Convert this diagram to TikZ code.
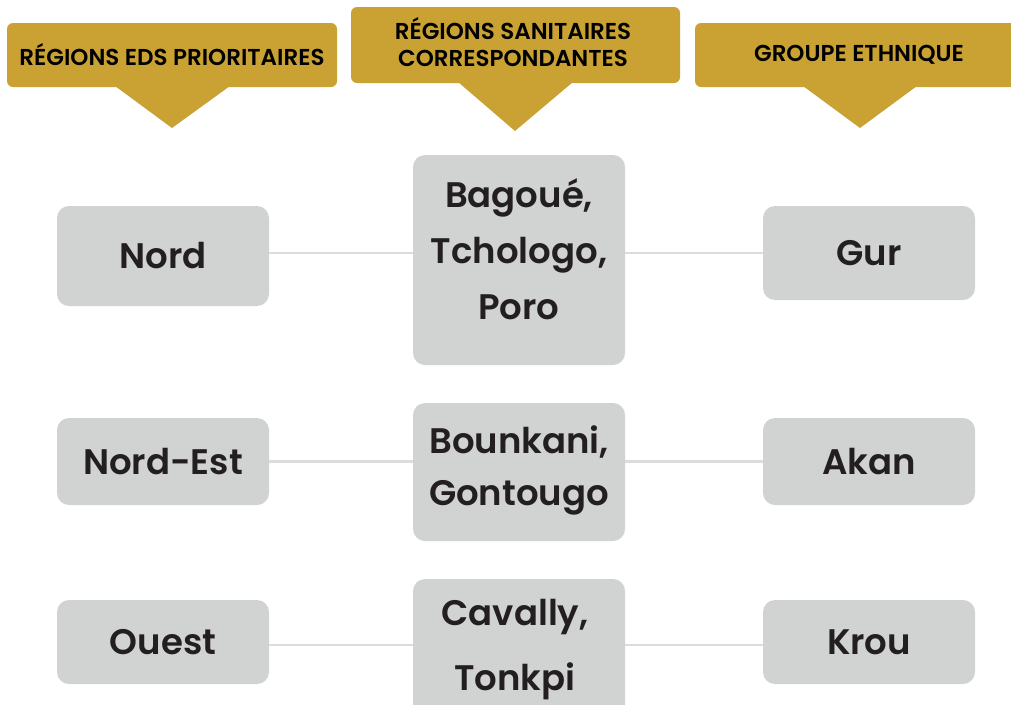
\documentclass[tikz,border=0pt]{standalone}
\usepackage{fontspec}
\setmainfont{Poppins}[BoldFont=Poppins SemiBold]
\newfontfamily\hdrfont{Poppins}[UprightFont=* SemiBold]
\definecolor{gold}{HTML}{C9A233}
\definecolor{boxgray}{HTML}{D1D2D2}
\definecolor{linegray}{HTML}{DCDCDC}
\definecolor{ink}{HTML}{231F20}
\begin{document}
\begin{tikzpicture}[x=1pt,y=-1pt,
  hdr/.style={fill=gold, rounded corners=6pt, inner sep=0pt, text=black, font=\hdrfont\fontsize{23}{27}\selectfont, align=center},
  cell/.style={fill=boxgray, rounded corners=12pt, inner sep=0pt, minimum width=212pt},
  celltext/.style={text=ink, font=\bfseries\fontsize{35.5}{56}\selectfont, align=center, inner sep=0pt},
  link/.style={draw=linegray, line width=2.5pt}]
\useasboundingbox (0,0) rectangle (1011,704);
\clip (0,0) rectangle (1011,704);
% headers
\node[hdr, minimum width=330pt, minimum height=64pt] (h1) at (172,55) {RÉGIONS EDS PRIORITAIRES};
\fill[gold] (115,86) -- (230,86) -- (172,128) -- cycle;
\node[hdr, minimum width=329pt, minimum height=76pt] (h2) at (515.5,45) {};
\node[hdr, fill=none, text=black] at (513,42) {RÉGIONS SANITAIRES\\CORRESPONDANTES};
\fill[gold] (458,82) -- (573,82) -- (515,131) -- cycle;
\node[hdr, minimum width=340pt, minimum height=64pt] (h3) at (865,55) {\hspace*{-12pt}GROUPE ETHNIQUE};
\fill[gold] (803,86) -- (917,86) -- (860,128) -- cycle;
% boxes
\node[cell, minimum height=100pt] (nord) at (163,256) {};
\node[cell, minimum height=210pt] (m1) at (519,260) {};
\node[cell, minimum height=94pt] (gur) at (869,253) {};
\node[cell, minimum height=87pt] (ne) at (163,461.5) {};
\node[cell, minimum height=138pt] (m2) at (519,472) {};
\node[cell, minimum height=87pt] (akan) at (869,461.5) {};
\node[cell, minimum height=84pt] (ouest) at (163,642) {};
\node[cell, minimum height=150pt] (m3) at (519,654) {};
\node[cell, minimum height=84pt] (krou) at (869,642) {};
\coordinate (r3) at (0,645);
% links
\draw[link] (nord.east |- gur) -- (m1.west |- gur);
\draw[link] (m1.east |- gur) -- (gur.west);
\draw[link] (ne.east) -- (m2.west |- ne);
\draw[link] (m2.east |- akan) -- (akan.west);
\draw[link] (ouest.east |- r3) -- (m3.west |- r3);
\draw[link] (m3.east |- r3) -- (krou.west |- r3);
% texts
\node[celltext] at (nord) {Nord};
\node[celltext] at (gur) {Gur};
\node[celltext] at (ne) {Nord-Est};
\node[celltext] at (akan) {Akan};
\node[celltext] at (ouest) {Ouest};
\node[celltext] at (krou) {Krou};
\node[celltext] at (519,249) {Bagoué,\\Tchologo,\\Poro};
\node[celltext, font=\bfseries\fontsize{35.5}{52}\selectfont] at (519,470) {Bounkani,\\Gontougo};
\node[celltext, font=\bfseries\fontsize{35.5}{65}\selectfont] at (515,650) {Cavally,\\Tonkpi};
\end{tikzpicture}
\end{document}
